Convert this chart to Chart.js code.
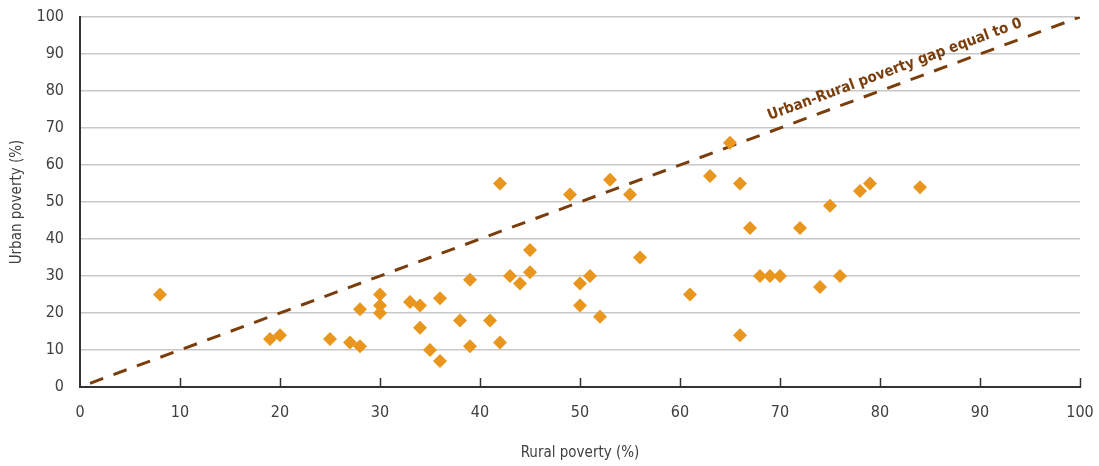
<!DOCTYPE html>
<html>
<head>
<meta charset="utf-8">
<script src="https://cdn.jsdelivr.net/npm/chart.js@4/dist/chart.umd.min.js"></script>
<style>
    html, body { margin: 0; padding: 0; background: #fff; }
    #wrap { width: 1099px; height: 466px; position: relative; }
</style>
</head>
<body>
<div id="wrap"><canvas id="povertyChart"></canvas></div>
<script>
// Dados
const ruralPoverty = [8, 19, 20, 25, 27, 28, 28, 30, 30, 30, 33, 34, 34, 35, 36, 36, 38, 39, 39, 41,
    42, 42, 43, 44, 45, 45, 49, 50, 50, 51, 52, 53, 55, 56, 61, 63, 65, 66, 66, 67,
    68, 69, 70, 72, 74, 75, 76, 78, 79, 84];
const urbanPoverty = [25, 13, 14, 13, 12, 11, 21, 25, 22, 20, 23, 22, 16, 10, 7, 24, 18, 29, 11, 18,
    55, 12, 30, 28, 37, 31, 52, 28, 22, 30, 19, 56, 52, 35, 25, 57, 66, 55, 14, 43,
    30, 30, 30, 43, 27, 49, 30, 53, 55, 54];
const parityX = [1, 100];
const parityY = [1, 100];
const parityLabel = 'Urban-Rural poverty gap equal to 0';
const xTitle = 'Rural poverty (%)';
const yTitle = 'Urban poverty (%)';

const FONT = "'Liberation Sans Narrow', 'DejaVu Sans Condensed', 'Roboto', sans-serif";
const BROWN = '#7A3E0C';
const ORANGE = '#E9961F';

function toPoints(xs, ys) {
    return xs.map((x, i) => ({ x: x, y: ys[i] }));
}

// Marcas do eixo X voltadas para cima
const xTickMarks = {
    id: 'xTickMarks',
    afterDraw(chart) {
        const ctx = chart.ctx;
        const xScale = chart.scales.x;
        const bottom = chart.chartArea.bottom;
        ctx.save();
        ctx.strokeStyle = '#333';
        ctx.lineWidth = 1.5;
        xScale.ticks.forEach(t => {
            if (t.value === 0) return;
            const px = Math.round(xScale.getPixelForValue(t.value)) + 0.5;
            ctx.beginPath();
            ctx.moveTo(px, bottom);
            ctx.lineTo(px, bottom - 9);
            ctx.stroke();
        });
        ctx.restore();
    }
};

// Rótulo da linha de paridade
const parityText = {
    id: 'parityText',
    afterDatasetsDraw(chart) {
        const ctx = chart.ctx;
        const xs = chart.scales.x, ys = chart.scales.y;
        const x0 = xs.getPixelForValue(parityX[0]), y0 = ys.getPixelForValue(parityY[0]);
        const x1 = xs.getPixelForValue(parityX[1]), y1 = ys.getPixelForValue(parityY[1]);
        const angle = Math.atan2(y1 - y0, x1 - x0);
        const cx = xs.getPixelForValue(82), cy = ys.getPixelForValue(82);
        ctx.save();
        ctx.translate(cx, cy);
        ctx.rotate(angle);
        ctx.font = 'bold 15px ' + FONT;
        ctx.fillStyle = BROWN;
        ctx.textAlign = 'center';
        ctx.textBaseline = 'alphabetic';
        ctx.fillText(parityLabel, 0, -11);
        ctx.restore();
    }
};

const ctx = document.getElementById('povertyChart').getContext('2d');
new Chart(ctx, {
    type: 'scatter',
    data: {
        datasets: [{
            label: 'Pontos',
            data: toPoints(ruralPoverty, urbanPoverty),
            pointStyle: 'rectRot',
            pointRadius: 7,
            pointBackgroundColor: ORANGE,
            pointBorderColor: ORANGE,
            pointBorderWidth: 0,
            order: 0
        }, {
            label: 'Paridade',
            data: toPoints(parityX, parityY),
            showLine: true,
            borderColor: BROWN,
            borderWidth: 3,
            borderDash: [14, 11],
            pointRadius: 0,
            order: 1
        }]
    },
    options: {
        responsive: true,
        maintainAspectRatio: false,
        animation: false,
        layout: { padding: { top: 17, right: 19, left: 0, bottom: 0 } },
        plugins: {
            legend: { display: false },
            tooltip: { enabled: false }
        },
        scales: {
            x: {
                type: 'linear',
                min: 0,
                max: 100,
                afterFit: s => { s.height = 79; s.paddingLeft = 0; s.paddingRight = 0; },
                ticks: { stepSize: 10, padding: 16, color: '#404040', font: { family: FONT, size: 16 } },
                grid: { display: false, drawTicks: false },
                border: { display: true, color: '#333', width: 2 },
                title: { display: true, text: xTitle, color: '#404040', padding: { top: 0, bottom: 4 },
                    font: { family: FONT, size: 15 } }
            },
            y: {
                min: 0,
                max: 100,
                afterFit: s => { s.width = 80; s.paddingTop = 0; s.paddingBottom = 0; },
                ticks: { stepSize: 10, padding: 16, color: '#404040', font: { family: FONT, size: 16 } },
                grid: { color: '#c8c8c8', lineWidth: 1.5, drawTicks: false },
                border: { display: true, color: '#333', width: 2 },
                title: { display: true, text: yTitle, color: '#404040', padding: { top: 8, bottom: 0 },
                    font: { family: FONT, size: 15 } }
            }
        }
    },
    plugins: [xTickMarks, parityText]
});
</script>
</body>
</html>
